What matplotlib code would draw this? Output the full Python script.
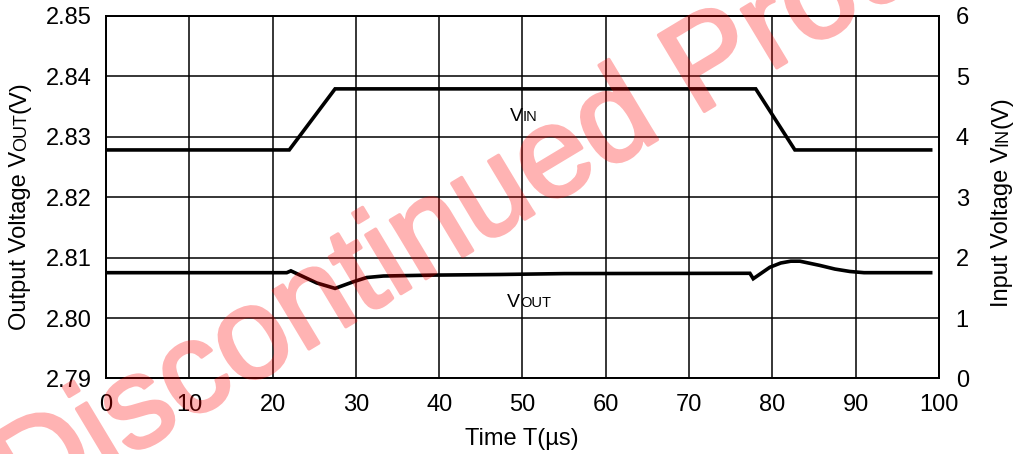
import matplotlib
matplotlib.use("Agg")
import matplotlib.pyplot as plt
import matplotlib.patheffects as pe

plt.rcParams['font.family'] = ['Liberation Sans', 'DejaVu Sans']

# input voltage step (right axis)
t_vin = [0, 22, 27.5, 78, 82.7, 99]
vin = [3.78, 3.78, 4.79, 4.79, 3.78, 3.78]

# output voltage response (left axis)
t_vout = [0, 21.7, 22.2, 25.3, 27.5, 29.7, 31.3, 33.3, 39.3, 47.3, 55, 77.3, 77.7,
          79.7, 81, 82.2, 83.3, 85.7, 87.5, 89.3, 91, 99]
vout = [2.8075, 2.8075, 2.8078, 2.8058, 2.8049, 2.8060, 2.8067, 2.80695, 2.8071,
        2.8072, 2.80735, 2.8074, 2.8065, 2.8084, 2.8091, 2.8094, 2.8094, 2.8087,
        2.8081, 2.8077, 2.8075, 2.8075]

x_ticks = [0, 10, 20, 30, 40, 50, 60, 70, 80, 90, 100]
left_ticks = [2.79, 2.80, 2.81, 2.82, 2.83, 2.84, 2.85]
right_ticks = [0, 1, 2, 3, 4, 5, 6]

fig = plt.figure(figsize=(10.18, 4.54), dpi=100)
ax = fig.add_axes([0.1041, 0.1663, 0.8183, 0.7991])
ax2 = ax.twinx()

ax.plot(t_vout, vout, color='black', lw=2.6, solid_joinstyle='miter', zorder=3)
ax2.plot(t_vin, vin, color='black', lw=2.6, solid_joinstyle='miter', zorder=3)

ax.set_xlim(0, 100)
ax.set_ylim(2.79, 2.85)
ax2.set_ylim(0, 6)
ax.set_xticks(x_ticks)
ax.set_yticks(left_ticks)
ax.set_yticklabels([f"{v:.2f}" for v in left_ticks])
ax2.set_yticks(right_ticks)
ax.grid(True, color='black', lw=1.1)
ax.tick_params(axis='y', length=0, labelsize=17, pad=10)
ax.tick_params(axis='x', length=0, labelsize=17, pad=11)
ax2.tick_params(length=0, labelsize=17, pad=12)
for a in (ax, ax2):
    for s in a.spines.values():
        s.set_linewidth(1.3)

fig.text(0.513, 0.0198, "Time T(µs)", ha='center', va='baseline', fontsize=17)


def vertical_label(x, y, big, small, tail):
    # rotated label with a small-cap part on the same baseline
    t1 = fig.text(x, y, big, rotation=90, rotation_mode='anchor',
                  ha='left', va='baseline', fontsize=17)
    t2 = ax.annotate(small, xy=(x, 1.0), xycoords=('figure fraction', t1),
                     rotation=90, rotation_mode='anchor', ha='left',
                     va='baseline', fontsize=13, annotation_clip=False)
    ax.annotate(tail, xy=(x, 1.0), xycoords=('figure fraction', t2),
                rotation=90, rotation_mode='anchor', ha='left',
                va='baseline', fontsize=17, annotation_clip=False)


vertical_label(0.0255, 0.273, "Output Voltage V", "OUT", "(V)")
vertical_label(0.990, 0.324, "Input Voltage V", "IN", "(V)")

# in-plot curve labels
ax.text(50.06, 2.8326, "V", ha='right', va='baseline', fontsize=14)
ax.text(50.06, 2.8326, "IN", ha='left', va='baseline', fontsize=10.5)
ax.text(49.7, 2.8018, "V", ha='right', va='baseline', fontsize=14)
ax.text(49.7, 2.8018, "OUT", ha='left', va='baseline', fontsize=10.5)


def fade(img, dpi):
    # make the whole watermark translucent in one go (stroke + fill)
    img = img.copy()
    img[..., 3] *= 0.3
    return img, 0, 0


# watermark
wm = fig.text(0.024, -0.145, "Discontinued Product", color='red',
              fontsize=93, rotation=31, ha='left', va='baseline',
              rotation_mode='anchor', zorder=10)
wm.set_path_effects([pe.withStroke(linewidth=2.5, foreground='red')])
wm.set_agg_filter(fade)

fig.savefig("out.png", dpi=100)
